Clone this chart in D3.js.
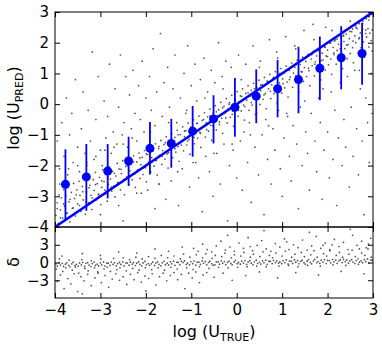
<!DOCTYPE html>
<html>
<head>
<meta charset="utf-8">
<script src="https://cdn.jsdelivr.net/npm/d3@7"></script>
<style>
  body { margin: 0; background: #fff; }
  text { font-family: "DejaVu Sans", sans-serif; }
</style>
</head>
<body>
<div id="chart"></div>
<script>
// binned medians with error bars (log U_true, log U_pred)
const binX = [-3.77, -3.31, -2.84, -2.38, -1.91, -1.44, -0.97, -0.51, -0.04, 0.43, 0.90, 1.36, 1.83, 2.30, 2.76];
const binMed = [-2.61, -2.37, -2.18, -1.85, -1.44, -1.28, -0.88, -0.48, -0.10, 0.26, 0.50, 0.80, 1.17, 1.51, 1.65];
const binLo = [-3.77, -3.47, -3.07, -2.66, -2.29, -2.07, -1.71, -1.28, -1.06, -0.62, -0.43, -0.30, 0.13, 0.48, 0.63];
const binHi = [-1.47, -1.30, -1.30, -1.06, -0.58, -0.48, -0.06, 0.29, 0.85, 1.13, 1.44, 1.87, 2.20, 2.54, 2.65];

// one-to-one line
const lineX = [-4, 3];

// axis ticks
const xTicks = [-4, -3, -2, -1, 0, 1, 2, 3];
const yTopTicks = [-4, -3, -2, -1, 0, 1, 2, 3];
const yBotTicks = [-3, 0, 3];

// scatter cloud, top panel: dense band near the line
const topDense = [
  [-3.98,-3.62],[-3.95,-3.21],[-3.93,-3.88],[-3.91,-2.95],[-3.88,-3.44],[-3.86,-3.05],[-3.83,-3.71],[-3.81,-2.78],[-3.79,-3.32],[-3.76,-2.99],
  [-3.74,-3.55],[-3.71,-2.66],[-3.69,-3.18],[-3.67,-3.83],[-3.64,-2.87],[-3.62,-3.39],[-3.59,-2.58],[-3.57,-3.07],[-3.55,-3.64],[-3.52,-2.79],
  [-3.50,-3.25],[-3.47,-2.51],[-3.45,-2.97],[-3.43,-3.49],[-3.40,-2.68],[-3.38,-3.12],[-3.35,-2.42],[-3.33,-3.58],[-3.31,-2.86],[-3.28,-2.31],
  [-3.26,-3.21],[-3.23,-2.64],[-3.21,-2.97],[-3.19,-3.43],[-3.16,-2.46],[-3.14,-2.81],[-3.11,-2.22],[-3.09,-3.11],[-3.07,-2.59],[-3.04,-2.95],
  [-3.02,-2.38],[-2.99,-3.27],[-2.97,-2.71],[-2.95,-2.13],[-2.92,-2.52],[-2.90,-2.93],[-2.87,-2.29],[-2.85,-3.16],[-2.83,-2.61],[-2.80,-2.05],
  [-2.78,-2.44],[-2.75,-2.83],[-2.73,-2.19],[-2.71,-2.67],[-2.68,-3.02],[-2.66,-2.34],[-2.63,-1.93],[-2.61,-2.55],[-2.59,-2.11],[-2.56,-2.79],
  [-2.54,-2.26],[-2.51,-1.84],[-2.49,-2.48],[-2.47,-2.95],[-2.44,-2.03],[-2.42,-2.37],[-2.39,-1.76],[-2.37,-2.62],[-2.35,-2.17],[-2.32,-1.95],
  [-2.30,-2.46],[-2.27,-1.68],[-2.25,-2.28],[-2.23,-2.71],[-2.20,-1.88],[-2.18,-2.14],[-2.15,-1.59],[-2.13,-2.42],[-2.11,-1.97],[-2.08,-1.73],
  [-2.06,-2.29],[-2.03,-1.51],[-2.01,-2.07],[-1.99,-2.53],[-1.96,-1.64],[-1.94,-1.89],[-1.91,-1.36],[-1.89,-2.21],[-1.87,-1.74],[-1.84,-1.52],
  [-1.82,-2.02],[-1.79,-1.29],[-1.77,-1.83],[-1.75,-2.31],[-1.72,-1.45],[-1.70,-1.67],[-1.67,-1.18],[-1.65,-1.96],[-1.63,-1.51],[-1.60,-1.31],
  [-1.58,-1.79],[-1.55,-1.06],[-1.53,-1.62],[-1.51,-2.08],[-1.48,-1.22],[-1.46,-1.44],[-1.43,-0.96],[-1.41,-1.74],[-1.39,-1.29],[-1.36,-1.08],
  [-1.34,-1.56],[-1.31,-0.85],[-1.29,-1.38],[-1.27,-1.86],[-1.24,-0.99],[-1.22,-1.21],[-1.19,-0.74],[-1.17,-1.52],[-1.15,-1.06],[-1.12,-0.86],
  [-1.10,-1.33],[-1.07,-0.62],[-1.05,-1.15],[-1.03,-1.63],[-1.00,-0.76],[-0.98,-0.98],[-0.95,-0.51],[-0.93,-1.29],[-0.91,-0.84],[-0.88,-0.63],
  [-0.86,-1.11],[-0.83,-0.39],[-0.81,-0.92],[-0.79,-1.41],[-0.76,-0.53],[-0.74,-0.75],[-0.71,-0.28],[-0.69,-1.07],[-0.67,-0.61],[-0.64,-0.41],
  [-0.62,-0.88],[-0.59,-0.16],[-0.57,-0.69],[-0.55,-1.18],[-0.52,-0.30],[-0.50,-0.52],[-0.47,-0.05],[-0.45,-0.84],[-0.43,-0.38],[-0.40,-0.18],
  [-0.38,-0.66],[-0.35,0.06],[-0.33,-0.46],[-0.31,-0.95],[-0.28,-0.07],[-0.26,-0.29],[-0.23,0.18],[-0.21,-0.61],[-0.19,-0.15],[-0.16,0.05],
  [-0.14,-0.43],[-0.11,0.29],[-0.09,-0.23],[-0.07,-0.72],[-0.04,0.16],[-0.02,-0.06],
  [0.01,0.41],[0.03,-0.39],[0.05,0.07],[0.08,0.27],[0.10,-0.22],[0.13,0.50],[0.15,-0.03],[0.17,-0.52],[0.20,0.35],[0.22,0.13],
  [0.25,0.60],[0.27,-0.20],[0.29,0.26],[0.32,0.45],[0.34,-0.03],[0.37,0.68],[0.39,0.16],[0.41,-0.33],[0.44,0.54],[0.46,0.32],
  [0.49,0.78],[0.51,-0.01],[0.53,0.44],[0.56,0.64],[0.58,0.16],[0.61,0.87],[0.63,0.35],[0.65,-0.15],[0.68,0.73],[0.70,0.50],
  [0.73,0.97],[0.75,0.18],[0.77,0.63],[0.80,0.83],[0.82,0.34],[0.85,1.06],[0.87,0.53],[0.89,0.04],[0.92,0.91],[0.94,0.69],
  [0.97,1.16],[0.99,0.36],[1.01,0.82],[1.04,1.01],[1.06,0.53],[1.09,1.24],[1.11,0.72],[1.13,0.23],[1.16,1.10],[1.18,0.88],
  [1.21,1.34],[1.23,0.55],[1.25,1.01],[1.28,1.20],[1.30,0.72],[1.33,1.43],[1.35,0.91],[1.37,0.41],[1.40,1.29],[1.42,1.06],
  [1.45,1.53],[1.47,0.74],[1.49,1.19],[1.52,1.39],[1.54,0.90],[1.57,1.62],[1.59,1.09],[1.61,0.60],[1.64,1.47],[1.66,1.25],
  [1.69,1.72],[1.71,0.92],[1.73,1.38],[1.76,1.57],[1.78,1.09],[1.81,1.80],[1.83,1.28],[1.85,0.79],[1.88,1.66],[1.90,1.44],
  [1.93,1.90],[1.95,1.11],[1.97,1.57],[2.00,1.76],[2.02,1.28],[2.05,1.99],[2.07,1.47],[2.09,0.97],[2.12,1.85],[2.14,1.62],
  [2.17,2.09],[2.19,1.30],[2.21,1.75],[2.24,1.95],[2.26,1.46],[2.29,2.18],[2.31,1.65],[2.33,1.16],[2.36,2.04],[2.38,1.81],
  [2.41,2.28],[2.43,1.48],[2.45,1.94],[2.48,2.13],[2.50,1.65],[2.53,2.36],[2.55,1.84],[2.57,1.35],[2.60,2.22],[2.62,2.00],
  [2.65,2.46],[2.67,1.67],[2.69,2.13],[2.72,2.32],[2.74,1.84],[2.77,2.46],[2.79,2.03],[2.81,1.53],[2.84,2.41],[2.86,2.19],
  [2.89,2.46],[2.91,1.86],[2.93,2.31],[2.96,2.07],[2.98,1.73],
  [2.55,2.45],[2.62,2.55],[2.70,2.62],[2.78,2.70],[2.85,2.78],[2.92,2.85],[2.97,2.92],[2.15,2.05],[2.35,2.22],[1.95,1.85]
];

// second pass along the band (hugging the one-to-one line)
const topBand = [
  [-3.95,-3.40],[-3.88,-3.70],[-3.81,-3.25],[-3.74,-3.55],[-3.67,-3.10],[-3.60,-3.38],[-3.53,-2.95],[-3.46,-3.30],[-3.39,-2.85],[-3.32,-3.18],
  [-3.25,-2.72],[-3.18,-3.05],[-3.11,-2.62],[-3.04,-2.93],[-2.97,-2.50],[-2.90,-2.80],[-2.83,-2.38],[-2.76,-2.70],[-2.69,-2.25],[-2.62,-2.58],
  [-2.55,-2.12],[-2.48,-2.45],[-2.41,-2.00],[-2.34,-2.33],[-2.27,-1.88],[-2.20,-2.20],[-2.13,-1.75],[-2.06,-2.08],[-1.99,-1.62],[-1.92,-1.95],
  [-1.85,-1.50],[-1.78,-1.83],[-1.71,-1.38],[-1.64,-1.70],[-1.57,-1.25],[-1.50,-1.58],[-1.43,-1.12],[-1.36,-1.45],[-1.29,-1.00],[-1.22,-1.33],
  [-1.15,-0.88],[-1.08,-1.20],[-1.01,-0.75],[-0.94,-1.08],[-0.87,-0.62],[-0.80,-0.95],[-0.73,-0.50],[-0.66,-0.83],[-0.59,-0.38],[-0.52,-0.70],
  [-0.45,-0.25],[-0.38,-0.58],[-0.31,-0.12],[-0.24,-0.45],[-0.17,0.00],[-0.10,-0.33],[-0.03,0.12],[0.04,-0.20],[0.11,0.25],[0.18,-0.08],
  [0.25,0.37],[0.32,0.05],[0.39,0.50],[0.46,0.18],[0.53,0.62],[0.60,0.30],[0.67,0.75],[0.74,0.42],[0.81,0.87],[0.88,0.55],
  [0.95,1.00],[1.02,0.67],[1.09,1.12],[1.16,0.80],[1.23,1.25],[1.30,0.92],[1.37,1.37],[1.44,1.05],[1.51,1.50],[1.58,1.17],
  [1.65,1.62],[1.72,1.30],[1.79,1.74],[1.86,1.42],[1.93,1.87],[2.00,1.55],[2.07,1.99],[2.14,1.67],[2.21,2.12],[2.28,1.80],
  [2.35,2.24],[2.42,1.92],[2.49,2.37],[2.56,2.05],[2.63,2.49],[2.70,2.17],[2.77,2.62],[2.84,2.30],[2.91,2.74],[2.98,2.42]
];

// scatter cloud, top panel: wide halo
const topSparse = [
  [-3.95,-1.2],[-3.90,-2.1],[-3.85,-0.6],[-3.80,-1.7],[-3.75,0.2],[-3.72,-2.3],[-3.68,-1.0],[-3.63,-0.3],[-3.60,-1.9],[-3.55,0.8],
  [-3.50,-1.4],[-3.46,-2.2],[-3.42,-0.8],[-3.38,0.4],[-3.34,-1.6],[-3.30,-2.0],[-3.27,-0.2],[-3.22,-1.2],[-3.18,1.7],[-3.14,-1.8],
  [-3.10,-0.5],[-3.05,0.9],[-3.00,-1.5],[-2.96,-2.0],[-2.92,0.1],[-2.88,-1.1],[-2.84,-0.4],[-2.80,1.3],[-2.76,-1.6],[-2.72,-0.9],
  [-2.68,0.5],[-2.64,-1.3],[-2.60,-0.1],[-2.56,1.6],[-2.52,-1.0],[-2.48,-0.6],[-2.44,0.9],[-2.40,-1.4],[-2.36,0.3],[-2.32,-0.8],
  [-2.28,1.1],[-2.24,-0.3],[-2.20,-1.2],[-2.16,0.6],[-2.12,-0.5],[-2.08,1.4],[-2.04,-0.9],[-2.00,0.2],
  [-3.00,-3.6],[-2.60,-3.3],[-2.20,-2.9],[-2.50,-3.8],[-1.80,-3.4],
  [-1.96,-2.8],[-1.92,0.9],[-1.88,-0.2],[-1.84,1.8],[-1.80,-0.7],[-1.76,0.4],[-1.72,-2.6],[-1.68,2.3],[-1.64,-0.4],[-1.60,0.7],
  [-1.56,-3.1],[-1.52,1.2],[-1.48,-0.1],[-1.44,-2.5],[-1.40,0.5],[-1.36,1.6],[-1.32,-0.6],[-1.28,-3.3],[-1.24,0.2],[-1.20,-2.1],
  [-1.16,1.0],[-1.12,-0.3],[-1.08,1.9],[-1.04,-2.7],[-1.00,0.6],[-0.96,-1.9],[-0.92,1.3],[-0.88,0.1],[-0.84,-2.4],[-0.80,0.8],
  [-0.76,-3.5],[-0.72,1.5],[-0.68,-1.7],[-0.64,0.4],[-0.60,-2.2],[-0.56,1.1],[-0.52,-3.0],[-0.48,0.7],[-0.44,-1.6],[-0.40,2.0],
  [-0.36,-2.6],[-0.32,0.9],[-0.28,-1.3],[-0.24,1.4],[-0.20,-3.8],[-0.16,-2.0],[-0.12,1.2],[-0.08,-1.5],[-0.04,0.8],[0.00,-2.4],
  [0.04,1.6],[0.08,-1.2],[0.12,-2.8],[0.16,-0.9],[0.20,1.3],[0.24,-1.9],[0.28,-0.6],[0.32,-3.2],[0.36,1.9],[0.40,-1.4],
  [0.44,-0.3],[0.48,-2.3],[0.52,1.4],[0.56,-1.0],[0.60,-3.6],[0.64,-0.5],[0.68,-1.8],[0.72,2.1],[0.76,-2.6],[0.80,-0.8],
  [0.84,-1.5],[0.88,1.7],[0.92,-0.2],[0.96,-2.1],[1.00,-3.0],[1.04,-1.1],[1.08,2.2],[1.12,-0.4],[1.16,-1.7],[1.20,-2.5],
  [1.24,-0.7],[1.28,1.9],[1.32,-1.3],[1.36,-3.4],[1.40,-0.1],[1.44,-2.0],[1.48,2.4],[1.52,-0.9],[1.56,-1.6],[1.60,-2.8],
  [1.64,-0.3],[1.68,2.6],[1.72,-1.2],[1.76,-2.2],[1.80,0.2],[1.84,-0.6],[1.88,-3.1],[1.92,-1.5],[1.96,2.5],[2.00,-0.9],
  [2.04,-2.4],[2.08,0.4],[2.12,-1.8],[2.16,-0.2],[2.20,-3.3],[2.24,-1.1],[2.28,0.7],[2.32,-2.0],[2.36,-0.5],[2.40,-1.4],
  [2.44,0.9],[2.48,-2.7],[2.52,-0.1],[2.56,-1.7],[2.60,1.1],[2.64,-0.8],[2.68,-2.3],[2.72,0.5],[2.76,-1.2],[2.80,-3.6],
  [2.84,0.2],[2.88,-0.6],[2.92,-1.9],[2.96,1.0],[2.98,-0.3],
  [-3.90,-2.6],[-3.70,-2.1],[-3.50,-2.0],[-3.30,-1.9],[-3.10,-1.7],[-2.90,-1.5],[-2.70,-1.4],[-2.50,-1.3],[-2.30,-1.1],[-2.10,-2.9],
  [-1.90,-0.9],[-1.70,-2.6],[-1.50,-0.6],[-1.30,-2.2],[-1.10,-0.2],[-0.90,-1.9],[-0.70,0.2],[-0.50,-1.6],[-0.30,0.5],[-0.10,-1.3],
  [0.10,0.8],[0.30,-1.0],[0.50,1.2],[0.70,-0.7],[0.90,1.5],[1.10,-0.3],[1.30,1.8],[1.50,0.1],[1.70,2.1],[1.90,0.5],
  [2.10,2.4],[2.30,0.8],[2.50,2.7],[2.70,1.1],[2.90,2.85]
];

// residuals, bottom panel: tight core near zero
const resCore = [
  [-3.98,-0.23],[-3.95,-0.60],[-3.91,-0.03],[-3.88,-0.42],[-3.84,-0.14],[-3.81,-0.67],[-3.77,-0.28],[-3.74,-0.06],[-3.70,-0.48],[-3.67,-0.72],
  [-3.63,-0.23],[-3.60,0.05],[-3.56,-0.52],[-3.53,-0.31],[-3.49,-0.60],[-3.46,-0.08],[-3.42,-0.41],[-3.39,0.03],[-3.35,-0.66],[-3.32,-0.14],
  [-3.28,-0.01],[-3.25,-0.44],[-3.21,-0.68],[-3.18,-0.19],[-3.14,0.08],[-3.11,-0.49],[-3.07,-0.28],[-3.04,-0.58],[-3.00,-0.06],[-2.97,-0.39],
  [-2.93,0.09],[-2.90,-0.61],[-2.86,-0.09],[-2.83,-0.12],[-2.79,-0.49],[-2.76,0.07],[-2.72,-0.32],[-2.69,-0.04],[-2.65,-0.58],[-2.62,-0.19],
  [-2.58,0.01],[-2.55,-0.32],[-2.51,0.12],[-2.48,-0.58],[-2.44,-0.06],[-2.41,-0.09],[-2.37,-0.46],[-2.34,0.10],[-2.30,-0.29],[-2.27,-0.01],
  [-2.23,-0.51],[-2.20,-0.12],[-2.16,0.10],[-2.13,-0.33],[-2.09,-0.57],[-2.06,-0.08],[-2.02,0.19],[-1.99,-0.38],[-1.95,-0.17],[-1.92,-0.47],
  [-1.88,-0.23],[-1.85,0.05],[-1.81,-0.49],[-1.78,-0.10],[-1.74,0.12],[-1.71,-0.31],[-1.67,-0.55],[-1.64,-0.06],[-1.60,0.21],[-1.57,-0.36],
  [-1.53,-0.11],[-1.50,-0.41],[-1.46,0.11],[-1.43,-0.22],[-1.39,0.22],[-1.36,-0.48],[-1.32,0.04],[-1.29,0.01],[-1.25,-0.36],[-1.22,0.20],
  [-1.18,0.00],[-1.15,0.27],[-1.11,-0.30],[-1.08,-0.09],[-1.04,-0.39],[-1.01,0.13],[-0.97,-0.20],[-0.94,0.24],[-0.90,-0.46],[-0.87,0.06],
  [-0.83,0.07],[-0.80,-0.30],[-0.76,0.26],[-0.73,-0.13],[-0.69,0.15],[-0.66,-0.39],[-0.62,0.00],[-0.59,0.22],[-0.55,-0.21],[-0.52,-0.45],
  [-0.48,-0.40],[-0.45,0.12],[-0.41,0.09],[-0.38,-0.28],[-0.34,0.28],[-0.31,-0.11],[-0.27,0.17],[-0.24,-0.37],[-0.20,0.02],[-0.17,0.24],
  [-0.13,-0.15],[-0.10,-0.39],[-0.06,0.10],[-0.03,0.37],[0.01,-0.20],[0.04,0.01],[0.08,-0.29],[0.11,0.23],[0.15,-0.10],[0.18,0.34],
  [0.22,-0.30],[0.25,0.09],[0.29,0.31],[0.32,-0.12],[0.36,-0.36],[0.39,0.13],[0.43,0.40],[0.46,-0.17],[0.50,0.04],[0.53,-0.26],
  [0.57,0.29],[0.60,-0.04],[0.64,0.40],[0.67,-0.30],[0.71,0.22],[0.74,0.19],[0.78,-0.18],[0.81,0.38],[0.85,-0.01],[0.88,0.27],
  [0.92,-0.11],[0.95,0.10],[0.99,-0.20],[1.02,0.32],[1.06,-0.01],[1.09,0.43],[1.13,-0.27],[1.16,0.25],[1.20,0.22],[1.23,-0.15],
  [1.27,0.44],[1.30,0.05],[1.34,0.33],[1.37,-0.21],[1.41,0.18],[1.44,0.40],[1.48,-0.03],[1.51,-0.27],[1.55,0.22],[1.58,0.49],
  [1.62,0.01],[1.65,-0.23],[1.69,0.26],[1.72,0.53],[1.76,-0.04],[1.79,0.17],[1.83,-0.13],[1.86,0.39],[1.90,0.06],[1.93,0.50],
  [1.97,-0.17],[2.00,0.35],[2.04,0.32],[2.07,-0.05],[2.11,0.51],[2.14,0.12],[2.18,0.40],[2.21,-0.14],[2.25,0.25],[2.28,0.47],
  [2.32,-0.02],[2.35,0.54],[2.39,0.15],[2.42,0.43],[2.46,-0.11],[2.49,0.28],[2.53,0.50],[2.56,0.07],[2.60,-0.17],[2.63,0.32],
  [2.67,0.63],[2.70,0.06],[2.74,0.27],[2.77,-0.03],[2.81,0.49],[2.84,0.16],[2.88,0.60],[2.91,-0.10],[2.95,0.42],[2.98,0.39]
];

// residuals, bottom panel: looser band
const resMid = [
  [-3.97,-1.1],[-3.90,0.6],[-3.83,-1.5],[-3.76,-0.9],[-3.69,0.4],[-3.62,-1.3],[-3.55,-0.8],[-3.48,-1.8],[-3.41,0.5],[-3.34,-1.0],
  [-3.27,-1.4],[-3.20,0.3],[-3.13,-0.9],[-3.06,-1.6],[-2.99,0.6],[-2.92,-1.1],[-2.85,-0.8],[-2.78,-1.5],[-2.71,0.7],[-2.64,-1.2],
  [-2.57,-0.9],[-2.50,0.8],[-2.43,-1.4],[-2.36,0.5],[-2.29,-1.0],[-2.22,0.9],[-2.15,-1.3],[-2.08,0.6],[-2.01,-0.9],
  [-1.94,1.0],[-1.87,-1.2],[-1.80,0.7],[-1.73,-0.9],[-1.66,1.2],[-1.59,-1.3],[-1.52,0.8],[-1.45,-0.8],[-1.38,1.1],[-1.31,-1.1],
  [-1.24,0.6],[-1.17,1.4],[-1.10,-0.9],[-1.03,0.9],[-0.96,-1.2],[-0.89,1.3],[-0.82,-0.7],[-0.75,0.8],[-0.68,1.5],[-0.61,-1.0],
  [-0.54,0.7],[-0.47,1.2],[-0.40,-0.8],[-0.33,1.0],[-0.26,1.6],[-0.19,-0.9],[-0.12,0.8],[-0.05,1.3],
  [0.02,-0.8],[0.09,1.1],[0.16,1.7],[0.23,-0.7],[0.30,0.9],[0.37,1.4],[0.44,-0.6],[0.51,1.0],[0.58,1.8],[0.65,-0.7],
  [0.72,1.2],[0.79,0.8],[0.86,1.6],[0.93,-0.6],[1.00,1.1],[1.07,1.9],[1.14,-0.5],[1.21,0.9],[1.28,1.4],[1.35,-0.7],
  [1.42,1.7],[1.49,1.0],[1.56,-0.5],[1.63,1.3],[1.70,2.0],[1.77,0.9],[1.84,-0.6],[1.91,1.5],[1.98,1.1],[2.05,2.2],
  [2.12,-0.4],[2.19,1.2],[2.26,1.7],[2.33,0.9],[2.40,-0.5],[2.47,1.4],[2.54,2.1],[2.61,1.0],[2.68,-0.3],[2.75,1.6],
  [2.82,1.2],[2.89,2.3],[2.96,0.9]
];

// residuals, bottom panel: outliers
const resSparse = [
  [-3.95,-3.2],[-3.88,-2.1],[-3.80,-4.4],[-3.72,-2.7],[-3.65,-3.6],[-3.58,-1.9],[-3.50,-4.9],[-3.43,-2.4],[-3.36,-3.1],[-3.28,-2.0],
  [-3.20,-3.9],[-3.12,-2.6],[-3.05,-1.8],[-2.98,-3.4],[-2.90,-2.2],[-2.82,-4.2],[-2.74,-2.8],[-2.66,-1.9],[-2.58,-3.0],[-2.50,-2.4],
  [-2.42,-3.7],[-2.34,-2.0],[-2.26,-2.9],[-2.18,-1.7],[-2.10,-3.3],[-2.02,-2.3],[-1.94,-2.7],[-1.86,-1.9],[-1.78,-3.8],[-1.70,-2.4],
  [-1.62,-1.8],[-1.54,-3.1],[-1.46,-2.2],[-1.38,-1.7],[-1.30,-2.9],[-1.22,-2.0],[-1.14,-4.4],[-1.06,-1.8],[-0.98,-2.6],[-0.90,-1.6],
  [-0.82,-3.4],[-0.74,-2.1],[-0.66,-1.7],[-0.50,-2.5],[-0.30,-1.8],[-0.10,-3.0],[0.20,-2.2],[0.50,-1.6],[0.90,-2.6],[1.30,-1.7],
  [1.80,-2.1],[2.30,-1.5],[2.80,-1.9],[-3.40,-5.3],[-2.00,-4.8],
  [-3.85,1.1],[-3.40,1.5],[-3.00,1.2],[-2.60,1.8],[-2.20,1.6],[-1.80,2.3],[-1.50,1.9],[-1.20,2.6],
  [-0.95,2.4],[-0.85,1.9],[-0.75,3.1],[-0.65,2.2],[-0.55,1.8],[-0.45,2.8],[-0.35,3.6],[-0.25,2.1],[-0.15,2.6],[-0.05,1.9],
  [0.05,3.3],[0.15,2.4],[0.25,4.2],[0.35,2.0],[0.45,2.9],[0.55,3.7],[0.65,2.3],[0.75,1.9],[0.85,3.2],[0.95,2.6],
  [1.05,4.0],[1.15,2.2],[1.25,3.0],[1.35,2.5],[1.45,3.8],[1.55,2.1],[1.65,2.8],[1.75,4.4],[1.85,2.4],[1.95,3.3],
  [2.05,2.0],[2.15,3.9],[2.25,2.7],[2.35,3.4],[2.45,2.2],[2.55,4.6],[2.65,2.9],[2.75,3.6],[2.85,2.5],[2.95,4.1],
  [0.60,5.4],[1.60,5.1],[2.50,5.6],[-0.20,4.6],[1.10,3.5],[2.10,3.0],[0.30,2.7],[1.90,2.9],[2.70,2.3],[2.90,3.1]
];

const w = 382;
const h = 345;
const left = 55, right = 373;
const topY = 12, midY = 227, botY = 298;
const blue = '#0000ff';

const svg = d3.select('#chart').append('svg')
    .attr('width', w)
    .attr('height', h);

// Scales
const xScale = d3.scaleLinear().domain([-4, 3]).range([left, right]);
const yTop = d3.scaleLinear().domain([-4, 3]).range([midY, topY]);
const yBot = d3.scaleLinear().domain([-6, 6]).range([botY, midY]);
const fmt = d3.format('d');

// clip paths for the two panels
const defs = svg.append('defs');
defs.append('clipPath').attr('id', 'clipTop').append('rect')
    .attr('x', left).attr('y', topY).attr('width', right - left).attr('height', midY - topY);
defs.append('clipPath').attr('id', 'clipBot').append('rect')
    .attr('x', left).attr('y', midY).attr('width', right - left).attr('height', botY - midY);

// scatter dots
function drawDots(g, data, yScale) {
  g.selectAll(null)
      .data(data)
      .enter()
      .append('circle')
      .attr('cx', (d) => xScale(d[0]))
      .attr('cy', (d) => yScale(d[1]))
      .attr('r', 0.85)
      .attr('fill', '#222')
      .attr('fill-opacity', 0.8);
}

const gTop = svg.append('g').attr('clip-path', 'url(#clipTop)');
drawDots(gTop, topSparse, yTop);
drawDots(gTop, topDense, yTop);
drawDots(gTop, topBand, yTop);

const gBot = svg.append('g').attr('clip-path', 'url(#clipBot)');
drawDots(gBot, resSparse, yBot);
drawDots(gBot, resMid, yBot);
drawDots(gBot, resCore, yBot);

// one-to-one line
gTop.append('path')
    .datum(lineX)
    .attr('d', d3.line().x((d) => xScale(d)).y((d) => yTop(d)))
    .attr('stroke', blue)
    .attr('stroke-width', 2.5)
    .attr('fill', 'none');

// error bars + medians
const bins = binX.map((x, i) => ({x: x, m: binMed[i], lo: binLo[i], hi: binHi[i]}));
svg.append('g').selectAll('line')
    .data(bins)
    .enter()
    .append('line')
    .attr('x1', (d) => xScale(d.x))
    .attr('x2', (d) => xScale(d.x))
    .attr('y1', (d) => yTop(d.lo))
    .attr('y2', (d) => yTop(d.hi))
    .attr('stroke', blue)
    .attr('stroke-width', 1.8);
svg.append('g').selectAll('circle')
    .data(bins)
    .enter()
    .append('circle')
    .attr('cx', (d) => xScale(d.x))
    .attr('cy', (d) => yTop(d.m))
    .attr('r', 4.5)
    .attr('fill', blue);

// Axes: ticks pointing inward on all four sides
function styleAxis(g) {
  g.select('.domain').remove();
  g.selectAll('text').attr('font-size', 15).attr('fill', '#000')
      .attr('font-family', '"DejaVu Sans", sans-serif');
  g.selectAll('line').attr('stroke', '#000');
}

svg.append('g')
    .attr('transform', 'translate(' + left + ',0)')
    .call(d3.axisLeft(yTop).tickValues(yTopTicks).tickSize(-5).tickPadding(6).tickFormat(fmt))
    .call(styleAxis);
svg.append('g')
    .attr('transform', 'translate(' + right + ',0)')
    .call(d3.axisRight(yTop).tickValues(yTopTicks).tickSize(-5).tickFormat(''))
    .call(styleAxis);
svg.append('g')
    .attr('transform', 'translate(0,' + topY + ')')
    .call(d3.axisTop(xScale).tickValues(xTicks).tickSize(-5).tickFormat(''))
    .call(styleAxis);
svg.append('g')
    .attr('transform', 'translate(0,' + midY + ')')
    .call(d3.axisBottom(xScale).tickValues(xTicks).tickSize(-5).tickFormat(''))
    .call(styleAxis);

svg.append('g')
    .attr('transform', 'translate(' + left + ',0)')
    .call(d3.axisLeft(yBot).tickValues(yBotTicks).tickSize(-5).tickPadding(6).tickFormat(fmt))
    .call(styleAxis);
svg.append('g')
    .attr('transform', 'translate(' + right + ',0)')
    .call(d3.axisRight(yBot).tickValues(yBotTicks).tickSize(-5).tickFormat(''))
    .call(styleAxis);
svg.append('g')
    .attr('transform', 'translate(0,' + midY + ')')
    .call(d3.axisTop(xScale).tickValues(xTicks).tickSize(-5).tickFormat(''))
    .call(styleAxis);
svg.append('g')
    .attr('transform', 'translate(0,' + botY + ')')
    .call(d3.axisBottom(xScale).tickValues(xTicks).tickSize(-5).tickPadding(6).tickFormat(fmt))
    .call(styleAxis);

// panel frames
svg.append('rect')
    .attr('x', left).attr('y', topY)
    .attr('width', right - left).attr('height', midY - topY)
    .attr('fill', 'none').attr('stroke', '#000').attr('stroke-width', 1);
svg.append('rect')
    .attr('x', left).attr('y', midY)
    .attr('width', right - left).attr('height', botY - midY)
    .attr('fill', 'none').attr('stroke', '#000').attr('stroke-width', 1);

// axis titles
const xTitle = svg.append('text')
    .attr('x', (left + right) / 2)
    .attr('y', 337)
    .attr('text-anchor', 'middle')
    .attr('font-size', 16);
xTitle.append('tspan').text('log (U');
xTitle.append('tspan').attr('font-size', 11).attr('dy', 4).text('TRUE');
xTitle.append('tspan').attr('dy', -4).text(')');

const yTitle = svg.append('text')
    .attr('transform', 'translate(19,108) rotate(-90)')
    .attr('text-anchor', 'middle')
    .attr('font-size', 16);
yTitle.append('tspan').text('log (U');
yTitle.append('tspan').attr('font-size', 11).attr('dy', 4).text('PRED');
yTitle.append('tspan').attr('dy', -4).text(')');

svg.append('text')
    .attr('transform', 'translate(19,262) rotate(-90)')
    .attr('text-anchor', 'middle')
    .attr('font-size', 16)
    .text('δ');
</script>
</body>
</html>
